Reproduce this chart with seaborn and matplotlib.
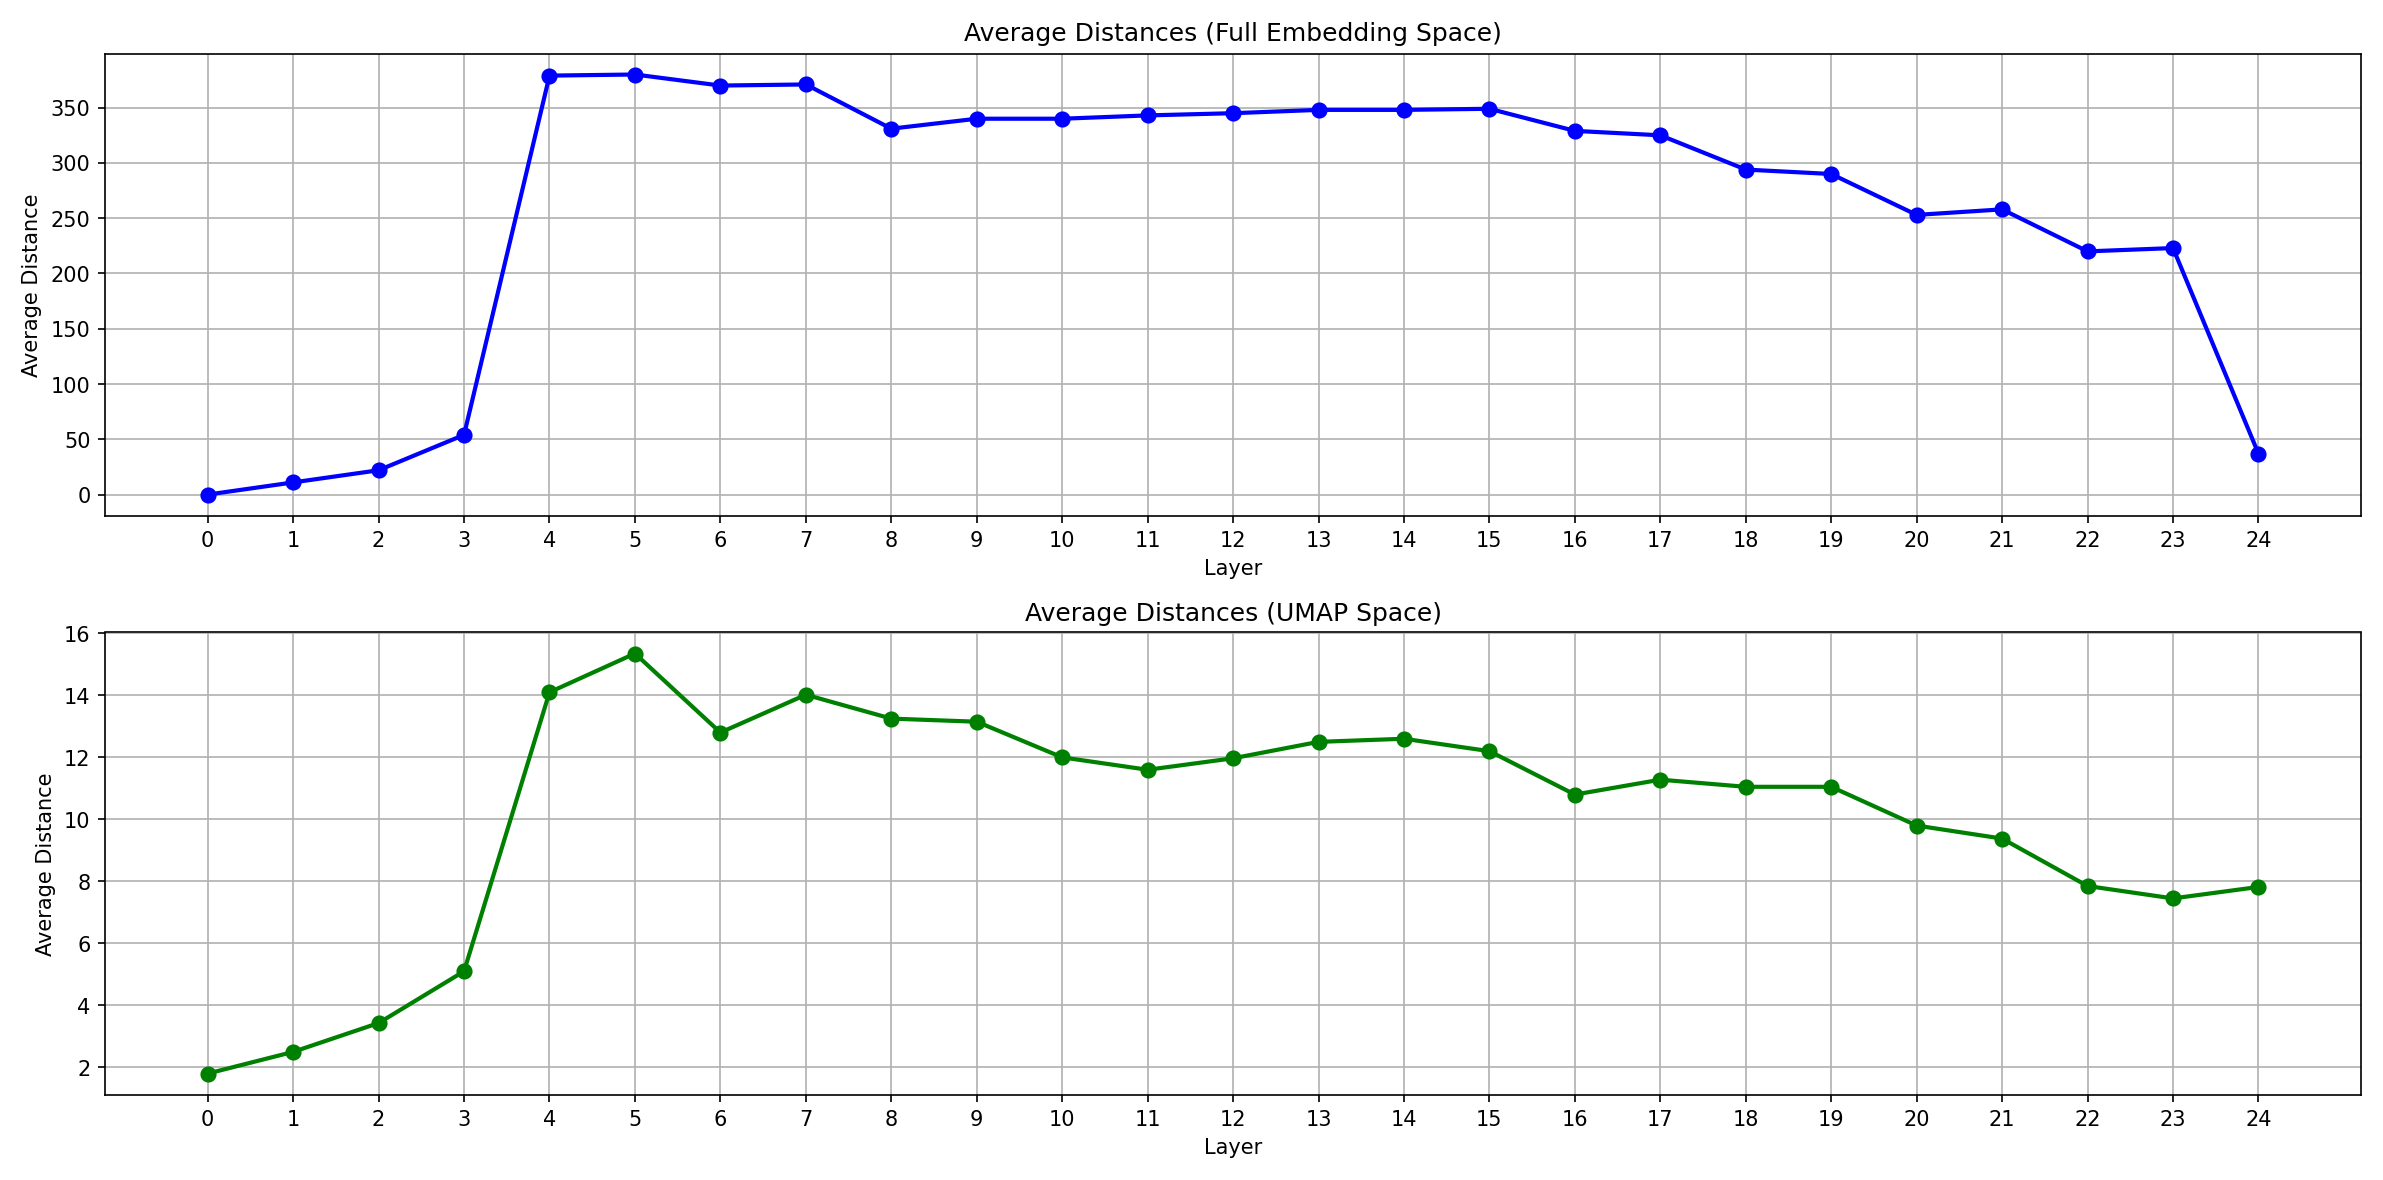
import numpy as np
import pandas as pd
import seaborn as sns
import matplotlib
matplotlib.use("Agg")
import matplotlib.pyplot as plt

layers = list(range(25))
full_dist = [0, 11, 22, 54, 379, 380, 370, 371, 331, 340, 340, 343, 345, 348, 348,
             349, 329, 325, 294, 290, 253, 258, 220, 223, 37]
umap_dist = [1.8, 2.5, 3.43, 5.1, 14.1, 15.35, 12.8, 14.02, 13.25, 13.15, 12.0, 11.6,
             11.97, 12.5, 12.6, 12.2, 10.8, 11.28, 11.05, 11.05, 9.8, 9.38, 7.85, 7.45, 7.82]

df = pd.DataFrame({"Layer": layers, "full": full_dist, "umap": umap_dist})

fig, axes = plt.subplots(2, 1, figsize=(15.89, 7.87), dpi=150)

for ax, col, color, title in [
    (axes[0], "full", "blue", "Average Distances (Full Embedding Space)"),
    (axes[1], "umap", "green", "Average Distances (UMAP Space)"),
]:
    sns.lineplot(data=df, x="Layer", y=col, ax=ax, color=color, linewidth=2,
                 marker="o", markersize=7, markeredgecolor=color)
    ax.set_title(title, fontsize=12)
    ax.set_xlabel("Layer")
    ax.set_ylabel("Average Distance")
    ax.set_xticks(layers)
    ax.set_xlim(-1.2, 25.2)
    ax.grid(True)

plt.tight_layout()
plt.savefig("out.png", dpi=150)
